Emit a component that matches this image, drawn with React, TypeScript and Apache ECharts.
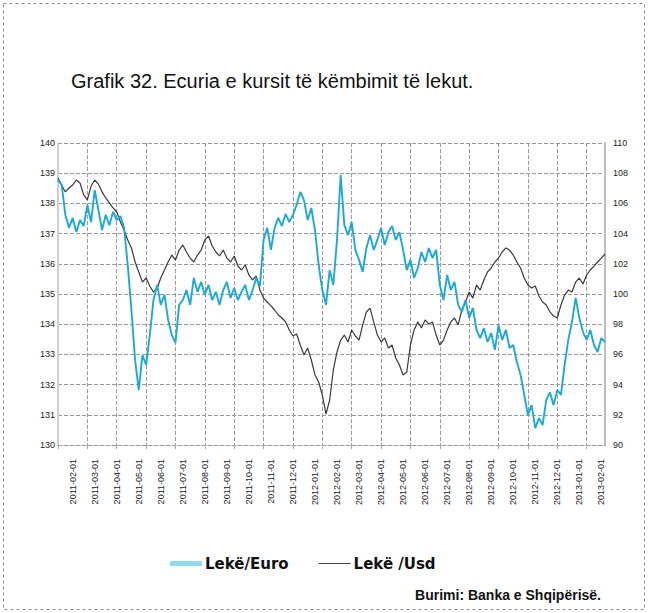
import React, { useEffect, useRef } from "react";
import * as echarts from "echarts";

const titleText = "Grafik 32. Ecuria e kursit të këmbimit të lekut.";
const sourceText = "Burimi: Banka e Shqipërisë.";
const seriesNames = ["Lekë/Euro", "Lekë /Usd"];

const tickLabels = [
  "2011-02-01", "2011-03-01", "2011-04-01", "2011-05-01", "2011-06-01",
  "2011-07-01", "2011-08-01", "2011-09-01", "2011-10-01", "2011-11-01",
  "2011-12-01", "2012-01-01", "2012-02-01", "2012-03-01", "2012-04-01",
  "2012-05-01", "2012-06-01", "2012-07-01", "2012-08-01", "2012-09-01",
  "2012-10-01", "2012-11-01", "2012-12-01", "2013-01-01", "2013-02-01",
];

const leftTicks = { min: 130, max: 140, step: 1 };
const rightTicks = { min: 90, max: 110, step: 2 };

const lekEuro = [
  138.77, 138.61, 137.62, 137.19, 137.52, 137.05, 137.45, 137.25, 137.95, 137.38,
  138.44, 137.78, 137.12, 137.62, 137.28, 137.72, 137.45, 137.58, 137.19, 135.96,
  134.47, 132.81, 131.82, 132.98, 132.65, 133.64, 134.8, 135.3, 134.64, 134.97,
  134.14, 133.64, 133.38, 134.64, 134.8, 135.13, 134.64, 135.53, 135.07, 135.4,
  134.97, 135.3, 134.8, 135.07, 134.64, 135.13, 135.4, 134.87, 135.2, 134.8,
  135.07, 135.3, 134.8, 135.13, 135.53, 135.26, 136.79, 137.19, 136.46, 137.19,
  137.52, 137.25, 137.65, 137.38, 137.62, 137.95, 138.38, 138.11, 137.45, 137.85,
  137.12, 135.96, 135.13, 134.64, 135.79, 135.3, 136.79, 138.94, 137.28, 136.95,
  137.38, 136.46, 136.13, 135.73, 136.52, 136.95, 136.46, 136.79, 137.19, 136.62,
  137.05, 137.25, 136.79, 137.05, 136.46, 135.79, 136.13, 135.53, 135.86, 136.39,
  136.06, 136.52, 136.19, 136.46, 135.3, 134.8, 135.63, 135.13, 135.4, 134.64,
  134.4, 134.8, 134.21, 134.54, 133.81, 133.54, 133.87, 133.41, 133.71, 133.15,
  133.97, 133.48, 133.81, 133.21, 133.31, 132.75, 132.32, 131.66, 130.99, 131.32,
  130.56, 130.89, 130.66, 131.49, 131.75, 131.32, 131.82, 131.66, 132.65, 133.48,
  134.07, 134.87, 134.21, 133.74, 133.48, 133.81, 133.31, 133.08, 133.54, 133.41,
];

const lekUsd = [
  107.68, 107.22, 106.76, 107.02, 107.22, 107.55, 107.35, 106.56, 106.23, 107.15,
  107.55, 107.28, 106.76, 106.36, 106.03, 105.7, 105.43, 104.77, 104.24, 103.58,
  103.05, 102.12, 101.46, 100.79, 101.06, 100.53, 100.13, 100.4, 101.06, 101.59,
  102.12, 102.58, 102.25, 102.91, 103.25, 102.78, 102.38, 102.12, 102.58, 102.91,
  103.58, 103.84, 103.18, 102.78, 102.52, 102.91, 102.38, 102.12, 102.52, 101.85,
  101.59, 101.92, 101.26, 100.93, 101.19, 100.26, 99.73, 99.47, 99.21, 98.94,
  98.61, 98.41, 98.15, 97.62, 97.22, 97.35, 96.62, 95.96, 96.42, 95.63,
  94.64, 94.17, 93.31, 92.05, 92.98, 94.97, 96.16, 96.95, 97.28, 96.82,
  97.62, 97.22, 96.95, 97.95, 98.81, 99.07, 98.15, 97.28, 96.82, 97.09,
  96.42, 96.62, 95.76, 95.3, 94.64, 94.83, 96.62, 97.62, 98.15, 97.75,
  98.28, 98.01, 98.15, 97.28, 96.62, 96.95, 97.62, 98.15, 98.41, 97.95,
  98.94, 99.47, 100.13, 99.73, 100.6, 100.26, 100.93, 101.46, 101.72, 102.12,
  102.38, 102.78, 103.05, 102.91, 102.58, 102.12, 101.72, 101.06, 100.6, 100.4,
  100.53, 99.87, 99.47, 99.27, 98.81, 98.54, 98.41, 99.27, 99.93, 100.26,
  100.13, 100.79, 101.06, 100.66, 101.26, 101.59, 101.85, 102.12, 102.38, 102.65,
];

const LABEL_EVERY = 6;
const LABEL_OFFSET = 4;
const GRID_EVERY = 8;

const categories = lekEuro.map((_, i) =>
  i % LABEL_EVERY === LABEL_OFFSET ? tickLabels[(i - LABEL_OFFSET) / LABEL_EVERY] ?? "" : ""
);

const FONT = "'Liberation Sans', Arial, sans-serif";

export default function App() {
  const ref = useRef<HTMLDivElement>(null);

  useEffect(() => {
    if (!ref.current) return;
    const chart = echarts.init(ref.current, null, { renderer: "svg" });
    const gridLine = (i: number) => i % GRID_EVERY === 0;
    chart.setOption({
      animation: false,
      backgroundColor: "#ffffff",
      textStyle: { fontFamily: FONT },
      title: {
        text: titleText,
        left: 66,
        top: 66,
        textStyle: { fontSize: 20, fontWeight: "normal", color: "#111", fontFamily: FONT },
      },
      grid: { left: 58, top: 143, right: 44, bottom: 168, containLabel: false },
      legend: {
        left: 165,
        top: 551,
        itemWidth: 32,
        itemHeight: 10,
        itemGap: 30,
        textStyle: { fontSize: 15, fontWeight: "bold", color: "#111", fontFamily: "'DejaVu Sans', sans-serif", padding: [0, 0, 0, -2] },
        data: [
          { name: seriesNames[0], icon: "path://M0,0L32,0L32,5L0,5Z", itemStyle: { color: "#8fdcf0" } },
          { name: seriesNames[1], icon: "path://M0,0L32,0L32,1.2L0,1.2Z", itemStyle: { color: "#444" } },
        ],
      },
      xAxis: {
        type: "category",
        boundaryGap: false,
        data: categories,
        axisLine: { show: true, lineStyle: { color: "#999", type: "dashed", width: 1 } },
        axisTick: { show: true, interval: gridLine, length: 4, lineStyle: { color: "#aaa" } },
        axisLabel: { interval: 0, rotate: 90, fontSize: 9, margin: 14, color: "#222", fontFamily: FONT },
        splitLine: { show: true, interval: gridLine, lineStyle: { color: "#9a9a9a", type: "dashed", width: 1 } },
      },
      yAxis: [
        {
          type: "value",
          position: "left",
          min: leftTicks.min,
          max: leftTicks.max,
          interval: leftTicks.step,
          axisLine: { show: true, lineStyle: { color: "#cfcfcf", width: 2 } },
          axisTick: { show: false },
          axisLabel: { fontSize: 9, margin: 3, color: "#222", fontFamily: FONT },
          splitLine: { show: true, lineStyle: { color: "#9a9a9a", type: "dashed", width: 1 } },
        },
        {
          type: "value",
          position: "right",
          min: rightTicks.min,
          max: rightTicks.max,
          interval: rightTicks.step,
          axisLine: { show: true, lineStyle: { color: "#bdbdbd", width: 2 } },
          axisTick: { show: false },
          axisLabel: { fontSize: 9, margin: 8, color: "#222", fontFamily: FONT },
          splitLine: { show: false },
        },
      ],
      series: [
        {
          name: seriesNames[1],
          type: "line",
          yAxisIndex: 1,
          data: lekUsd,
          symbol: "none",
          lineStyle: { color: "#3a3a3a", width: 1.2 },
          itemStyle: { color: "#3a3a3a" },
          z: 2,
        },
        {
          name: seriesNames[0],
          type: "line",
          yAxisIndex: 0,
          data: lekEuro,
          symbol: "none",
          lineStyle: { color: "#1ba9d9", width: 1.9 },
          itemStyle: { color: "#8fdcf0" },
          z: 3,
        },
      ],
      graphic: [
        {
          type: "rect",
          shape: { x: 3.5, y: 3.5, width: 641, height: 606 },
          style: { fill: "none", stroke: "#8a8a8a", lineWidth: 1, lineDash: [3, 3] },
          silent: true,
        },
        {
          type: "text",
          right: 48,
          top: 588,
          style: { text: sourceText, fontSize: 14, fontWeight: "bold", fill: "#111", fontFamily: FONT },
        },
      ],
    });
    return () => chart.dispose();
  }, []);

  return (
    <div
      ref={ref}
      style={{ position: "fixed", left: 0, top: 0, width: 649, height: 613, background: "#fff" }}
    />
  );
}
